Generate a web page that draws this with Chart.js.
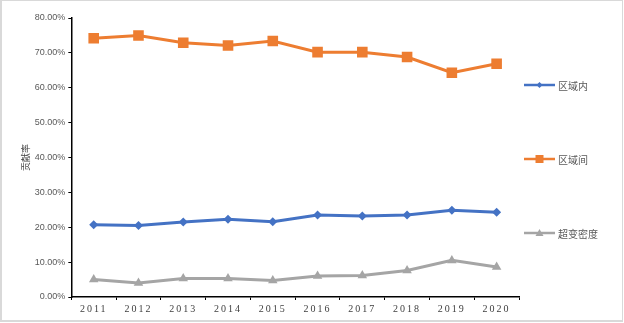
<!DOCTYPE html>
<html>
<head>
  <meta charset="utf-8">
  <title>贡献率</title>
  <script src="https://cdn.jsdelivr.net/npm/chart.js"></script>
  <style>
    html, body { margin: 0; padding: 0; background: #fff; }
    #wrap { position: relative; width: 620px; height: 319px; border: 2px solid #d9d9d9; border-right-width: 1px; border-top-width: 1px; background: #fff; }
  </style>
</head>
<body>
  <div id="wrap"><canvas id="chart"></canvas></div>

  <script>
    // Chart data (percent)
    const years = ['2011', '2012', '2013', '2014', '2015', '2016', '2017', '2018', '2019', '2020'];
    const within = [20.7, 20.5, 21.5, 22.3, 21.6, 23.5, 23.2, 23.5, 24.9, 24.3];
    const between = [74.2, 75.0, 72.9, 72.1, 73.4, 70.2, 70.2, 68.8, 64.3, 66.9];
    const transvariation = [5.0, 4.0, 5.3, 5.3, 4.7, 6.0, 6.2, 7.6, 10.5, 8.6];
    const seriesNames = ['区域内', '区域间', '超变密度'];
    const yTicks = [0, 10, 20, 30, 40, 50, 60, 70, 80];

    const colors = ['#4472C4', '#ED7D31', '#A5A5A5'];
    const shapes = ['rectRot', 'rect', 'triangle'];
    const radii = [4.5, 7.5, 5.5];

    // legend drawn on the right, spread vertically like the original
    const sideLegend = {
      id: 'sideLegend',
      afterDraw(chart) {
        const ctx = chart.ctx;
        const rows = [84, 158, 232];
        const x0 = 522, x1 = 553;
        chart.data.datasets.forEach((ds, i) => {
          const y = rows[i];
          ctx.save();
          ctx.strokeStyle = ds.borderColor;
          ctx.lineWidth = 2.5;
          ctx.beginPath();
          ctx.moveTo(x0, y);
          ctx.lineTo(x1, y);
          ctx.stroke();
          ctx.fillStyle = ds.borderColor;
          const cx = (x0 + x1) / 2;
          ctx.beginPath();
          if (i === 0) {
            ctx.moveTo(cx, y - 3); ctx.lineTo(cx + 3, y); ctx.lineTo(cx, y + 3); ctx.lineTo(cx - 3, y);
          } else if (i === 1) {
            ctx.rect(cx - 4, y - 4, 8, 8);
          } else {
            ctx.moveTo(cx, y - 4); ctx.lineTo(cx + 4, y + 3); ctx.lineTo(cx - 4, y + 3);
          }
          ctx.closePath();
          ctx.fill();
          ctx.fillStyle = '#595959';
          ctx.font = '10px "Noto Sans CJK SC"';
          ctx.textBaseline = 'middle';
          ctx.textAlign = 'left';
          ctx.fillText(ds.label, x1 + 3, y + 1);
          ctx.restore();
        });
      }
    };

    // spaced-out year labels
    const spacedX = {
      id: 'spacedX',
      beforeDraw(chart) {
        const xs = chart.scales.x;
        if (xs._spaced) return;
        const orig = xs.drawLabels.bind(xs);
        xs.drawLabels = function (area) {
          chart.ctx.save();
          chart.ctx.letterSpacing = '2px';
          orig(area);
          chart.ctx.restore();
        };
        xs._spaced = true;
      }
    };

    const datasets = [within, between, transvariation].map((d, i) => ({
      label: seriesNames[i],
      data: d,
      borderColor: colors[i],
      backgroundColor: colors[i],
      borderWidth: 3,
      pointStyle: shapes[i],
      pointRadius: radii[i],
      pointBorderWidth: 0,
      pointHoverRadius: radii[i],
      tension: 0
    }));

    new Chart(document.getElementById('chart'), {
      type: 'line',
      data: { labels: years, datasets: datasets },
      options: {
        responsive: true,
        maintainAspectRatio: false,
        animation: false,
        layout: { padding: { left: 18, right: 103, top: 17, bottom: 0 } },
        plugins: {
          legend: { display: false },
          tooltip: { enabled: false }
        },
        scales: {
          x: {
            offset: true,
            afterFit(scale) { scale.height = 23; },
            border: { color: '#000', width: 1.5 },
            grid: { drawOnChartArea: false, drawTicks: true, tickLength: 3, color: '#000', offset: true },
            ticks: { color: '#404040', font: { family: 'Liberation Serif', size: 10 }, padding: 3, maxRotation: 0 }
          },
          y: {
            min: 0,
            max: 80,
            afterBuildTicks(axis) { axis.ticks = yTicks.map(v => ({ value: v })); },
            border: { color: '#000', width: 1.5 },
            grid: { drawOnChartArea: false, drawTicks: true, tickLength: 3, color: '#000' },
            ticks: {
              color: '#595959',
              font: { family: 'Liberation Sans', size: 9 },
              padding: 3,
              callback: v => v.toFixed(2) + '%'
            },
            title: {
              display: true,
              text: '贡献率',
              color: '#404040',
              font: { family: 'Noto Sans CJK SC', size: 9 },
              padding: { top: 0, bottom: 1 }
            }
          }
        }
      },
      plugins: [sideLegend, spacedX]
    });
  </script>
</body>
</html>
